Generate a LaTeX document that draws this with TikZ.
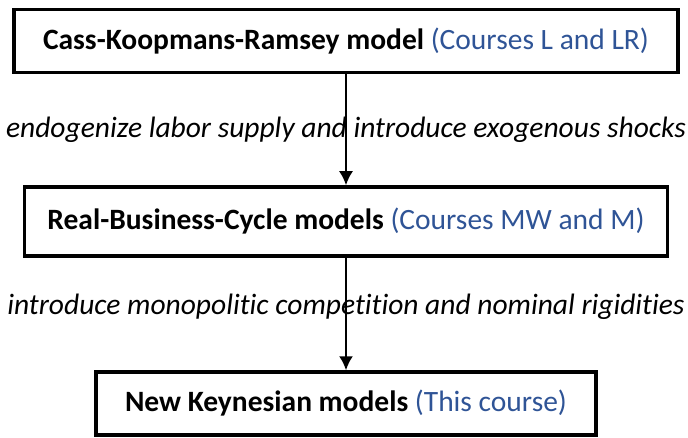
\documentclass[tikz,border=0pt]{standalone}
\usepackage{fontspec}
\setmainfont{Carlito}[Ligatures=NoCommon]
\usepackage{xcolor}
\usetikzlibrary{positioning,arrows.meta}

\definecolor{courseblue}{HTML}{2F5496}
\newcommand{\course}[1]{{\color{courseblue}#1}}

\tikzset{
  model/.style={rectangle, draw, line width=3.5pt, minimum height=63pt,
    inner xsep=29pt, font=\fontsize{29.5}{34}\selectfont},
  link/.style={-{Latex[length=14pt,width=14pt]}, line width=2pt},
  extension/.style={font=\fontsize{29.5}{34}\itshape}
}

\begin{document}
\begin{tikzpicture}[x=1pt, y=1pt, node distance=111pt]
            \useasboundingbox (0,0) rectangle (688,-438);

            \node [model] (ckr) at (346,-41) {\textbf{Cass-Koopmans-Ramsey model} \course{(Courses L and LR)}};
            \node [model, below=of ckr, minimum height=69pt, inner xsep=23pt] (rbc) {\textbf{Real-Business-Cycle models} \course{(Courses MW and M)}};
            \node [model, below=of rbc, yshift=-1.5pt] (nk) {\textbf{New Keynesian models} \course{(This course)}};

            \draw [link] (ckr) to node [extension] {endogenize labor supply and introduce exogenous shocks} (rbc);
            \draw [link] (rbc) to node [extension, pos=0.44] {introduce monopolitic competition and nominal rigidities} (nk);
        \end{tikzpicture}
\end{document}
